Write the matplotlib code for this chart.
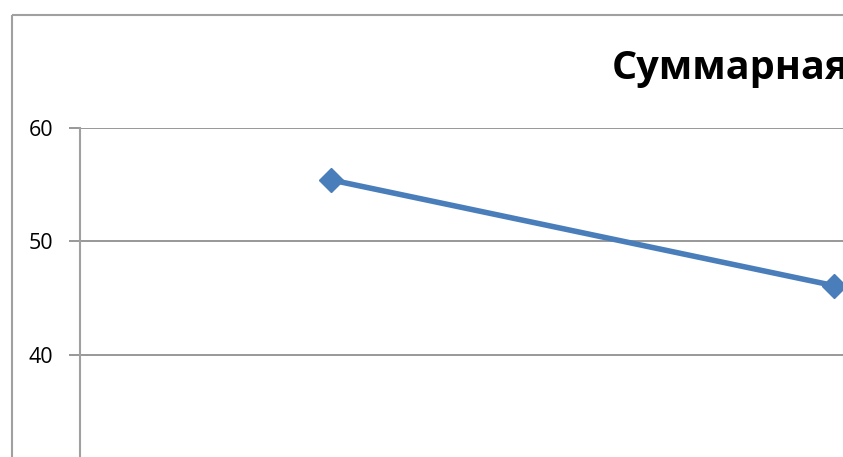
import matplotlib
matplotlib.use("Agg")
import matplotlib.pyplot as plt
from matplotlib.patches import Rectangle

categories = [1, 2]
values = [55.4, 46.1]
yticks = [40, 50, 60]
title = "Суммарная"

W, H = 843, 457
fig = plt.figure(figsize=(W / 100, H / 100), dpi=100)
plt.rcParams['font.family'] = ['Open Sans', 'DejaVu Sans']

# chart border (extends beyond the visible crop)
fig.patches.append(Rectangle((11.5 / W, 1 - 15 / H), 2.0, -2.0,
                             transform=fig.transFigure, fill=False,
                             edgecolor='#a0a0a0', linewidth=1.5))

x0 = 80
cat_w = 503
ncat = 3
ymin, ymax = 30, 60
top = 127.7
unit = 11.37
ax_h = (ymax - ymin) * unit
ax = fig.add_axes([x0 / W, 1 - (top + ax_h) / H, ncat * cat_w / W, ax_h / H])
ax.set_xlim(0.5, ncat + 0.5)
ax.set_ylim(ymin, ymax)
ax.set_yticks(yticks)
ax.set_yticklabels([str(v) for v in yticks], fontsize=15.5)
ax.set_xticks([])
ax.grid(axis='y', color='#868686', linewidth=1.2)
ax.set_axisbelow(True)
for s in ['top', 'right', 'bottom']:
    ax.spines[s].set_visible(False)
ax.spines['left'].set_color('#a0a0a0')
ax.spines['left'].set_linewidth(1.5)
ax.tick_params(axis='y', length=8, width=1.2, color='#868686', pad=11.5)

ax.plot(categories, values, color='#4a7ebb', linewidth=4.0, marker='D',
        markersize=12, markerfacecolor='#4a7ebb', markeredgecolor='#4a7ebb',
        clip_on=False)

fig.text(612 / W, 1 - 69 / H, title, fontsize=28.5, fontweight='bold',
         va='center', ha='left')

fig.savefig("out.png", dpi=100)
